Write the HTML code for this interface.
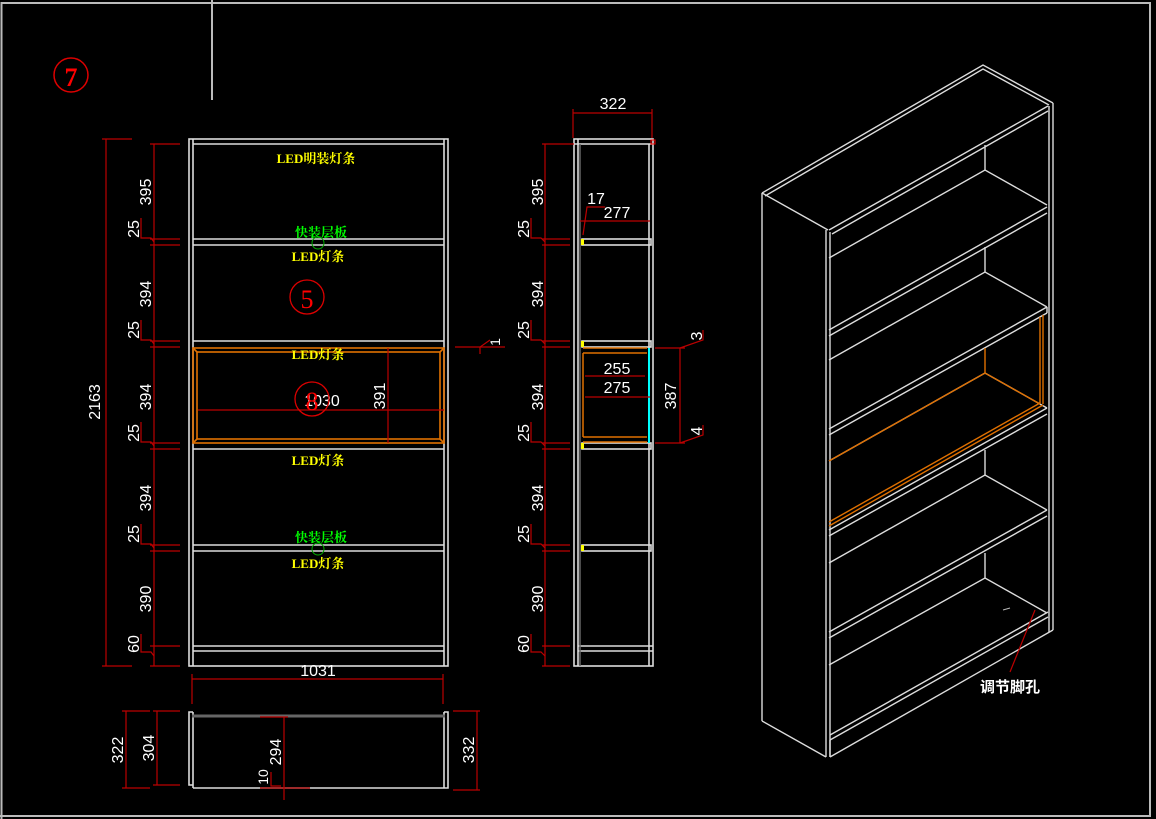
<!DOCTYPE html>
<html><head><meta charset="utf-8"><style>
html,body{margin:0;padding:0;background:#000;}
svg{display:block}
text{font-family:"Liberation Sans","Noto Sans CJK SC",sans-serif;}
.d{fill:#fff;font-size:16px;}
.y{fill:#ff0;font-size:13px;font-weight:bold;font-family:"Liberation Serif","Noto Serif CJK SC",serif;}
.g{fill:#0f0;font-size:13px;font-weight:bold;font-family:"Liberation Serif","Noto Serif CJK SC",serif;}
</style></head><body>
<svg width="1156" height="819" viewBox="0 0 1156 819" xmlns="http://www.w3.org/2000/svg">
<rect width="1156" height="819" fill="#000"/>
<g stroke="#bbb" stroke-width="2" fill="none">
<polyline points="1.5,819 1.5,3 1150,3 1150,816 0,816"/>
<line x1="212" y1="0" x2="212" y2="100"/>
</g>
<circle cx="71" cy="75" r="17" stroke="#d00" fill="none" stroke-width="1.5"/>
<text x="71" y="86" fill="#f00" font-size="26" font-weight="bold" text-anchor="middle" style="font-family:'Liberation Serif',serif">7</text>

<g stroke="#ddd" stroke-width="1.6" fill="none">
<rect x="189" y="139" width="259" height="527"/>
<line x1="193" y1="139" x2="193" y2="666"/><line x1="444" y1="139" x2="444" y2="666"/>
<line x1="193" y1="144" x2="444" y2="144"/>
<line x1="193" y1="239" x2="444" y2="239"/><line x1="193" y1="245" x2="444" y2="245"/>
<line x1="193" y1="341" x2="444" y2="341"/>
<line x1="193" y1="449" x2="444" y2="449"/>
<line x1="193" y1="545" x2="444" y2="545"/><line x1="193" y1="551" x2="444" y2="551"/>
<line x1="193" y1="646" x2="444" y2="646"/><line x1="193" y1="651" x2="444" y2="651"/>
</g>
<g stroke="#e07000" stroke-width="1.6" fill="none">
<rect x="193" y="348" width="251" height="95"/>
<rect x="197" y="352" width="243" height="87"/>
<line x1="193" y1="348" x2="197" y2="352"/><line x1="444" y1="348" x2="440" y2="352"/>
<line x1="193" y1="443" x2="197" y2="439"/><line x1="444" y1="443" x2="440" y2="439"/>
</g>
<g stroke="#b00" stroke-width="1.2" fill="none">
<line x1="106" y1="139" x2="106" y2="666"/>
<line x1="102" y1="139" x2="132" y2="139"/><line x1="102" y1="666" x2="132" y2="666"/>
<line x1="154" y1="144" x2="154" y2="666"/>
<line x1="150" y1="144" x2="180" y2="144"/>
<line x1="150" y1="239" x2="180" y2="239"/><line x1="150" y1="245" x2="180" y2="245"/>
<line x1="150" y1="341" x2="180" y2="341"/><line x1="150" y1="347" x2="180" y2="347"/>
<line x1="150" y1="443" x2="180" y2="443"/><line x1="150" y1="449" x2="180" y2="449"/>
<line x1="150" y1="545" x2="180" y2="545"/><line x1="150" y1="551" x2="180" y2="551"/>
<line x1="150" y1="646" x2="180" y2="646"/><line x1="150" y1="666" x2="180" y2="666"/>
<polyline points="141,218 141,238 151,238 154,242"/><polyline points="141,320 141,340 151,340 154,344"/>
<polyline points="141,422 141,442 151,442 154,446"/><polyline points="141,524 141,544 151,544 154,548"/>
<polyline points="141,634 141,652 151,652 154,656"/>
<line x1="192" y1="679" x2="443" y2="679"/><line x1="192" y1="674" x2="192" y2="704"/><line x1="443" y1="674" x2="443" y2="704"/>
<line x1="198" y1="410" x2="444" y2="410"/>
<line x1="388" y1="348" x2="388" y2="443"/>
<line x1="455" y1="347" x2="505" y2="347"/><polyline points="480,354 480,347 490,340"/>
</g>
<g class="d">
<text transform="translate(100,402) rotate(-90)" text-anchor="middle">2163</text>
<text transform="translate(151,192) rotate(-90)" text-anchor="middle">395</text>
<text transform="translate(139,229) rotate(-90)" text-anchor="middle">25</text>
<text transform="translate(151,294) rotate(-90)" text-anchor="middle">394</text>
<text transform="translate(139,330) rotate(-90)" text-anchor="middle">25</text>
<text transform="translate(151,397) rotate(-90)" text-anchor="middle">394</text>
<text transform="translate(139,433) rotate(-90)" text-anchor="middle">25</text>
<text transform="translate(151,498) rotate(-90)" text-anchor="middle">394</text>
<text transform="translate(139,534) rotate(-90)" text-anchor="middle">25</text>
<text transform="translate(151,599) rotate(-90)" text-anchor="middle">390</text>
<text transform="translate(139,644) rotate(-90)" text-anchor="middle">60</text>
<text transform="translate(385,396) rotate(-90)" text-anchor="middle">391</text>
<text transform="translate(500,342) rotate(-90)" text-anchor="middle" font-size="14">1</text>
<text x="318" y="676" text-anchor="middle">1031</text>
<text x="322" y="406" text-anchor="middle">1030</text>
</g>
<text class="y" x="316" y="163" text-anchor="middle">LED明装灯条</text>
<text class="g" x="321" y="237" text-anchor="middle">快装层板</text>
<circle cx="318" cy="243" r="6" stroke="#0a0" fill="none"/>
<text class="y" x="318" y="261" text-anchor="middle">LED灯条</text>
<text class="y" x="318" y="359" text-anchor="middle">LED灯条</text>
<text class="y" x="318" y="465" text-anchor="middle">LED灯条</text>
<text class="g" x="321" y="542" text-anchor="middle">快装层板</text>
<circle cx="318" cy="549" r="6" stroke="#0a0" fill="none"/>
<text class="y" x="318" y="568" text-anchor="middle">LED灯条</text>
<circle cx="307" cy="297" r="17" stroke="#d00" fill="none" stroke-width="1.3"/>
<text x="307" y="308" fill="#f00" font-size="26" text-anchor="middle" style="font-family:'Liberation Serif',serif">5</text>
<circle cx="312" cy="399" r="17" stroke="#d00" fill="none" stroke-width="1.3"/>
<text x="312" y="410" fill="#f00" font-size="26" text-anchor="middle" style="font-family:'Liberation Serif',serif">8</text>

<g stroke="#ddd" stroke-width="1.6" fill="none">
<polyline points="193,712 189,712 189,785 193,785"/>
<polyline points="444,712 448,712 448,788 444,788"/>
<line x1="193" y1="712" x2="193" y2="788"/><line x1="444" y1="712" x2="444" y2="788"/>
<line x1="193" y1="788" x2="444" y2="788"/>
</g>
<line x1="192" y1="716" x2="445" y2="716" stroke="#666" stroke-width="3"/>
<g stroke="#b00" stroke-width="1.2" fill="none">
<line x1="126" y1="711" x2="126" y2="788"/><line x1="122" y1="711" x2="150" y2="711"/><line x1="122" y1="788" x2="150" y2="788"/>
<line x1="157" y1="711" x2="157" y2="785"/><line x1="153" y1="711" x2="180" y2="711"/><line x1="153" y1="785" x2="180" y2="785"/>
<line x1="477" y1="711" x2="477" y2="790"/><line x1="453" y1="711" x2="480" y2="711"/><line x1="453" y1="790" x2="480" y2="790"/>
<line x1="284" y1="717" x2="284" y2="800"/><line x1="260" y1="717" x2="288" y2="717"/>
<line x1="260" y1="788" x2="310" y2="788"/><polyline points="271,772 271,786 281,786"/>
</g>
<g class="d">
<text transform="translate(123,750) rotate(-90)" text-anchor="middle">322</text>
<text transform="translate(154,748) rotate(-90)" text-anchor="middle">304</text>
<text transform="translate(474,750) rotate(-90)" text-anchor="middle">332</text>
<text transform="translate(281,752) rotate(-90)" text-anchor="middle">294</text>
<text transform="translate(268,777) rotate(-90)" text-anchor="middle" font-size="14">10</text>
</g>

<g stroke="#ddd" stroke-width="1.6" fill="none">
<rect x="574" y="139" width="79" height="527"/>
<line x1="578" y1="139" x2="578" y2="666"/><line x1="649" y1="144" x2="649" y2="666"/>
<line x1="574" y1="144" x2="653" y2="144"/>
<rect x="582" y="239" width="69" height="6"/>
<rect x="582" y="341" width="69" height="6"/>
<rect x="582" y="443" width="69" height="6"/>
<rect x="582" y="545" width="69" height="6"/>
<line x1="578" y1="646" x2="653" y2="646"/><line x1="578" y1="651" x2="653" y2="651"/>
</g>
<line x1="580" y1="144" x2="580" y2="666" stroke="#666" stroke-width="1.5"/>
<g fill="#ff0"><rect x="581" y="239" width="3" height="6"/><rect x="581" y="341" width="3" height="6"/><rect x="581" y="443" width="3" height="6"/><rect x="581" y="545" width="3" height="6"/></g>
<g stroke="#e07000" stroke-width="1.5" fill="none">
<line x1="583" y1="348" x2="647" y2="348"/><line x1="583" y1="353" x2="647" y2="353"/>
<line x1="583" y1="437" x2="647" y2="437"/><line x1="583" y1="442" x2="647" y2="442"/>
<line x1="583" y1="353" x2="583" y2="437"/>
</g>
<line x1="649" y1="348" x2="649" y2="443" stroke="#0ff" stroke-width="2"/>
<rect x="651" y="140" width="4" height="4" stroke="#f00" fill="none"/>
<g stroke="#b00" stroke-width="1.2" fill="none">
<line x1="573" y1="113" x2="652" y2="113"/><line x1="573" y1="109" x2="573" y2="138"/><line x1="652" y1="109" x2="652" y2="138"/>
<line x1="545" y1="144" x2="545" y2="666"/>
<line x1="542" y1="144" x2="574" y2="144"/>
<line x1="542" y1="239" x2="570" y2="239"/><line x1="542" y1="245" x2="570" y2="245"/>
<line x1="542" y1="341" x2="570" y2="341"/><line x1="542" y1="347" x2="570" y2="347"/>
<line x1="542" y1="443" x2="570" y2="443"/><line x1="542" y1="449" x2="570" y2="449"/>
<line x1="542" y1="545" x2="570" y2="545"/><line x1="542" y1="551" x2="570" y2="551"/>
<line x1="542" y1="646" x2="570" y2="646"/><line x1="542" y1="666" x2="570" y2="666"/>
<polyline points="531,218 531,238 541,238 545,242"/><polyline points="531,320 531,340 541,340 545,344"/>
<polyline points="531,422 531,442 541,442 545,446"/><polyline points="531,524 531,544 541,544 545,548"/>
<polyline points="531,634 531,652 541,652 545,656"/>
<line x1="580" y1="221" x2="650" y2="221"/><polyline points="583,235 587,207 605,207"/>
<line x1="585" y1="376" x2="645" y2="376"/>
<line x1="585" y1="397" x2="650" y2="397"/>
<line x1="680" y1="348" x2="680" y2="443"/>
<line x1="655" y1="348" x2="685" y2="348"/><line x1="655" y1="443" x2="685" y2="443"/>
<polyline points="680,348 703,340 703,330"/><polyline points="680,443 703,435 703,425"/>
</g>
<g class="d">
<text x="613" y="109" text-anchor="middle">322</text>
<text transform="translate(543,192) rotate(-90)" text-anchor="middle">395</text>
<text transform="translate(529,229) rotate(-90)" text-anchor="middle">25</text>
<text transform="translate(543,294) rotate(-90)" text-anchor="middle">394</text>
<text transform="translate(529,330) rotate(-90)" text-anchor="middle">25</text>
<text transform="translate(543,397) rotate(-90)" text-anchor="middle">394</text>
<text transform="translate(529,433) rotate(-90)" text-anchor="middle">25</text>
<text transform="translate(543,498) rotate(-90)" text-anchor="middle">394</text>
<text transform="translate(529,534) rotate(-90)" text-anchor="middle">25</text>
<text transform="translate(543,599) rotate(-90)" text-anchor="middle">390</text>
<text transform="translate(529,644) rotate(-90)" text-anchor="middle">60</text>
<text x="596" y="204" text-anchor="middle">17</text>
<text x="617" y="218" text-anchor="middle">277</text>
<text x="617" y="374" text-anchor="middle">255</text>
<text x="617" y="393" text-anchor="middle">275</text>
<text transform="translate(676,396) rotate(-90)" text-anchor="middle">387</text>
<text transform="translate(702,336) rotate(-90)" text-anchor="middle">3</text>
<text transform="translate(702,431) rotate(-90)" text-anchor="middle">4</text>
</g>

<g stroke="#ddd" stroke-width="1.4" fill="none">
<polyline points="762,193 983,65 1053,103"/>
<polyline points="765,196 983,69 1049,105"/>
<line x1="762" y1="193" x2="828" y2="230"/>
<line x1="762" y1="193" x2="762" y2="721"/>
<line x1="762" y1="721" x2="826" y2="757"/>
<line x1="826" y1="230" x2="826" y2="757"/>
<line x1="830" y1="232" x2="830" y2="757"/>
<line x1="1053" y1="103" x2="1053" y2="630"/>
<line x1="1049" y1="106" x2="1049" y2="632"/>
<line x1="830" y1="757" x2="1053" y2="630"/>
<line x1="829" y1="230" x2="1048" y2="106"/>
<line x1="832" y1="234" x2="1048" y2="111"/>
<line x1="985" y1="145" x2="985" y2="170"/>
<line x1="830" y1="740" x2="1048" y2="617"/>
<line x1="830" y1="735" x2="1048" y2="612"/>
<line x1="830" y1="740" x2="830" y2="757"/>
</g>
<g stroke="#ddd" stroke-width="1.4" fill="none">
<polyline points="829,360 985,272 1047,307"/>
<line x1="985" y1="247" x2="985" y2="272"/>
<line x1="829" y1="429" x2="1047" y2="307"/>
<line x1="829" y1="435" x2="1047" y2="313"/>
<line x1="1047" y1="307" x2="1047" y2="313"/>
<polyline points="829,461 985,373 1047,408"/>
<line x1="829" y1="530" x2="1047" y2="408"/>
<line x1="829" y1="536" x2="1047" y2="414"/>
<polyline points="829,563 985,475 1047,510"/>
<line x1="985" y1="450" x2="985" y2="475"/>
<line x1="829" y1="632" x2="1047" y2="510"/>
<line x1="829" y1="638" x2="1047" y2="516"/>
<polyline points="829,665 985,578 1047,613"/>
<line x1="985" y1="553" x2="985" y2="578"/>
<line x1="829" y1="330" x2="1047" y2="207"/>
<line x1="829" y1="336" x2="1047" y2="213"/>
<polyline points="829,258 985,170 1047,205"/>
</g>
<g stroke="#e07000" stroke-width="1.4" fill="none">
<line x1="985" y1="348" x2="985" y2="373"/>
<polyline points="829,461 985,373 1040,404"/>
<line x1="1040" y1="317" x2="1040" y2="404"/>
<line x1="1043" y1="315" x2="1043" y2="404"/>
<line x1="829" y1="526" x2="1043" y2="405"/>
<line x1="829" y1="522" x2="1040" y2="403"/>
</g>
<line x1="1010" y1="608" x2="1003" y2="610" stroke="#bbb"/>
<line x1="1035" y1="610" x2="1010" y2="672" stroke="#b00" stroke-width="1.2"/>
<text x="1010" y="692" fill="#fff" font-size="15" font-weight="bold" text-anchor="middle">调节脚孔</text>
</svg>
</body></html>
